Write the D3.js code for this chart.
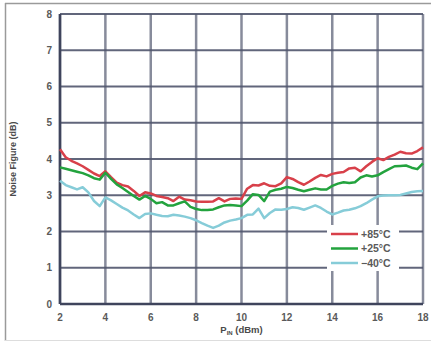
<html>
<head>
<script src="https://cdn.jsdelivr.net/npm/d3@7"></script>
<style>
  body { margin: 0; background: #ffffff; }
  text { font-family: "Liberation Sans", Arial, sans-serif; }
</style>
</head>
<body>
<div id="chart"></div>
<script>
// input power, dBm (shared x grid)
var pin = d3.range(2, 18.001, 0.25);

// noise figure (dB)
var nf85 = [4.27, 4.05, 3.95, 3.88, 3.80, 3.70, 3.60, 3.53, 3.66, 3.50, 3.35, 3.28, 3.24, 3.12, 2.98, 3.08,
            3.05, 2.98, 2.95, 2.92, 2.84, 2.96, 2.88, 2.86, 2.83, 2.82, 2.82, 2.83, 2.92, 2.83, 2.90, 2.91,
            2.90, 3.18, 3.28, 3.27, 3.33, 3.26, 3.25, 3.33, 3.50, 3.45, 3.36, 3.29, 3.38, 3.48, 3.56, 3.52,
            3.59, 3.62, 3.64, 3.74, 3.76, 3.66, 3.80, 3.92, 4.02, 3.97, 4.06, 4.12, 4.20, 4.16, 4.15, 4.22, 4.32];
var nf25 = [3.77, 3.73, 3.69, 3.65, 3.61, 3.55, 3.47, 3.43, 3.62, 3.45, 3.30, 3.20, 3.09, 2.98, 2.88, 2.98,
            2.90, 2.78, 2.81, 2.72, 2.72, 2.78, 2.83, 2.68, 2.62, 2.59, 2.59, 2.61, 2.67, 2.72, 2.73, 2.72,
            2.70, 2.85, 3.03, 3.01, 2.84, 3.10, 3.15, 3.18, 3.23, 3.20, 3.15, 3.11, 3.15, 3.19, 3.16, 3.16,
            3.26, 3.32, 3.36, 3.34, 3.36, 3.49, 3.55, 3.52, 3.55, 3.64, 3.72, 3.80, 3.81, 3.82, 3.76, 3.72, 3.88];
var nfm40 = [3.40, 3.28, 3.22, 3.16, 3.22, 3.08, 2.84, 2.70, 2.94, 2.86, 2.76, 2.66, 2.58, 2.47, 2.37, 2.48,
             2.50, 2.46, 2.43, 2.42, 2.46, 2.44, 2.41, 2.37, 2.31, 2.23, 2.16, 2.10, 2.16, 2.25, 2.30, 2.33,
             2.37, 2.46, 2.47, 2.63, 2.37, 2.51, 2.61, 2.60, 2.62, 2.67, 2.65, 2.60, 2.66, 2.72, 2.65, 2.55,
             2.47, 2.52, 2.58, 2.60, 2.64, 2.70, 2.78, 2.88, 2.97, 2.99, 3.00, 3.00, 3.01, 3.05, 3.09, 3.11, 3.12];

var seriesNames = ["+85°C", "+25°C", "\u221240°C"];
var seriesColors = ["#d8404a", "#23a33e", "#86ccd8"];
var xTicks = [2, 4, 6, 8, 10, 12, 14, 16, 18];
var yTicks = [0, 1, 2, 3, 4, 5, 6, 7, 8];

var W = 431, H = 342;
// plot box (named so they don't clash with window.top)
var pL = 60, pR = 423, pT = 14, pB = 304;

var svg = d3.select("#chart").append("svg")
    .attr("width", W)
    .attr("height", H);

// outer frame of the figure
svg.append("line").attr("x1", 5).attr("x2", W).attr("y1", 3.5).attr("y2", 3.5)
    .attr("stroke", "#9a9a9a").attr("stroke-width", 1.5);
svg.append("line").attr("x1", 5.5).attr("x2", 5.5).attr("y1", 3).attr("y2", 341)
    .attr("stroke", "#9a9a9a").attr("stroke-width", 1.5);
svg.append("line").attr("x1", 5).attr("x2", W).attr("y1", 340.5).attr("y2", 340.5)
    .attr("stroke", "#dddddd").attr("stroke-width", 1);

var x = d3.scaleLinear().domain([2, 18]).range([pL, pR]);
var y = d3.scaleLinear().domain([0, 8]).range([pB, pT]);

// grid
var grid = svg.append("g");
grid.selectAll(".vg").data(xTicks).enter().append("line")
    .attr("x1", d => x(d)).attr("x2", d => x(d))
    .attr("y1", pT).attr("y2", pB)
    .attr("stroke", "#5f647a").attr("stroke-width", 2.5).attr("stroke-opacity", 0.75);
grid.selectAll(".hg").data(yTicks).enter().append("line")
    .attr("x1", pL).attr("x2", pR)
    .attr("y1", d => y(d)).attr("y2", d => y(d))
    .attr("stroke", "#50556d").attr("stroke-width", 2).attr("stroke-opacity", 0.9);
// left and bottom axis lines a bit darker
svg.append("line").attr("x1", pL).attr("x2", pL).attr("y1", pT).attr("y2", pB)
    .attr("stroke", "#3f445c").attr("stroke-width", 2.5);
svg.append("line").attr("x1", pL).attr("x2", pR).attr("y1", pB).attr("y2", pB)
    .attr("stroke", "#3f445c").attr("stroke-width", 2.5);

// tick labels
svg.append("g").selectAll("text").data(yTicks).enter().append("text")
    .attr("x", 52).attr("y", d => y(d)).attr("dy", "0.35em")
    .attr("text-anchor", "end")
    .attr("font-size", 10).attr("font-weight", "bold").attr("fill", "#5a5a5a")
    .text(d => d);
svg.append("g").selectAll("text").data(xTicks).enter().append("text")
    .attr("x", d => x(d)).attr("y", 317).attr("dy", "0.35em")
    .attr("text-anchor", "middle")
    .attr("font-size", 10).attr("font-weight", "bold").attr("fill", "#5a5a5a")
    .text(d => d);

// axis titles
svg.append("text")
    .attr("transform", "translate(16," + ((pT + pB) / 2) + ") rotate(-90)")
    .attr("text-anchor", "middle")
    .attr("font-size", 9).attr("font-weight", "bold").attr("fill", "#4a4a4a")
    .text("Noise Figure (dB)");
var xt = svg.append("text")
    .attr("x", (pL + pR) / 2).attr("y", 333)
    .attr("text-anchor", "middle")
    .attr("font-size", 9.5).attr("font-weight", "bold").attr("fill", "#4a4a4a");
xt.append("tspan").text("P");
xt.append("tspan").attr("font-size", 6).attr("dy", 2).text("IN");
xt.append("tspan").attr("dy", -2).text(" (dBm)");

// curves
var line = d3.line()
    .x((d, i) => x(pin[i]))
    .y(d => y(d));
[nf85, nf25, nfm40].forEach(function(s, k) {
  svg.append("path")
      .datum(s)
      .attr("d", line)
      .attr("fill", "none")
      .attr("stroke", seriesColors[k])
      .attr("stroke-width", 2.5)
      .attr("stroke-linejoin", "round");
});

// legend with white backing
var lg = svg.append("g");
lg.append("rect").attr("x", 327).attr("y", 225).attr("width", 72).attr("height", 46)
    .attr("fill", "#ffffff");
seriesNames.forEach(function(n, k) {
  var yy = 234 + k * 14.5;
  lg.append("line").attr("x1", 331).attr("x2", 358).attr("y1", yy).attr("y2", yy)
      .attr("stroke", seriesColors[k]).attr("stroke-width", 2.5);
  lg.append("text").attr("x", 361).attr("y", yy).attr("dy", "0.35em")
      .attr("font-size", 10.5).attr("font-weight", "bold").attr("fill", "#5a5a5a")
      .text(n);
});
</script>
</body>
</html>
